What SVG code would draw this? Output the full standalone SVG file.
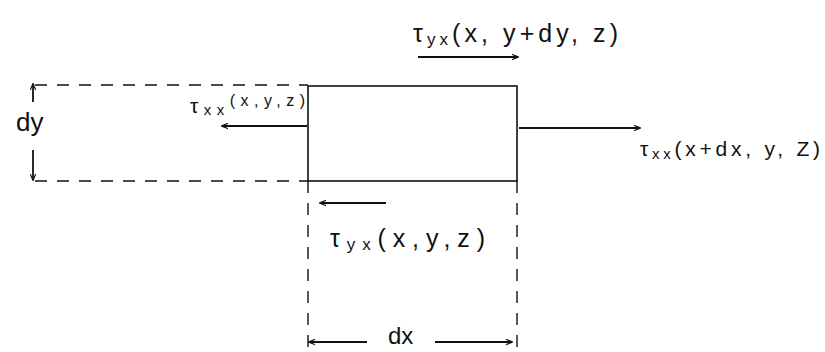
<svg xmlns="http://www.w3.org/2000/svg" width="825" height="352" viewBox="0 0 825 352">
<defs>
<marker id="ah" viewBox="0 0 10 10" refX="9" refY="5" markerWidth="7" markerHeight="7" orient="auto-start-reverse" markerUnits="userSpaceOnUse">
<path d="M0,1 L10,5 L0,9" fill="none" stroke="#111" stroke-width="1.6"/>
</marker>
<style>
.ln{stroke:#111;stroke-width:1.6;fill:none}
.ds{stroke:#111;stroke-width:1.4;fill:none;stroke-dasharray:12 10}
.ar{stroke:#111;stroke-width:1.8;fill:none;marker-end:url(#ah)}
.t{font-family:"Liberation Sans","DejaVu Sans",sans-serif;fill:#111}
</style>
</defs>
<rect width="825" height="352" fill="#fff"/>
<g id="element">
<rect x="308" y="86" width="209" height="95" class="ln"/>
</g>
<g id="guides">
<line x1="35" y1="85" x2="308" y2="85" class="ds"/>
<line x1="35" y1="181" x2="308" y2="181" class="ds"/>
<line x1="308" y1="181" x2="308" y2="352" class="ds"/>
<line x1="517" y1="181" x2="517" y2="352" class="ds"/>
</g>
<g id="connectors">
<line x1="33" y1="102" x2="33" y2="84" class="ar"/>
<line x1="33" y1="150" x2="33" y2="180" class="ar"/>
<line x1="367" y1="342" x2="309" y2="342" class="ar"/>
<line x1="435" y1="342" x2="512" y2="342" class="ar"/>
<line x1="418" y1="57" x2="518" y2="57" class="ar"/>
<line x1="307" y1="126" x2="222" y2="126" class="ar"/>
<line x1="519" y1="128" x2="640" y2="128" class="ar"/>
<line x1="386" y1="203" x2="320" y2="203" class="ar"/>
</g>
<g id="labels">
<text class="t" x="16" y="131" font-size="26">dy</text>
<text class="t" x="388" y="344" font-size="24">dx</text>
<text class="t" x="413" y="42" font-size="25" textLength="205" lengthAdjust="spacing">τ<tspan font-size="17" dy="3">yx</tspan><tspan dy="-3">(x, y+dy, z)</tspan></text>
<text class="t" x="190" y="113" font-size="21" textLength="115" lengthAdjust="spacing">τ<tspan font-size="15" dy="2">xx</tspan><tspan font-size="16" dy="-9">(x,y,z)</tspan></text>
<text class="t" x="640" y="156" font-size="21" textLength="180" lengthAdjust="spacing">τ<tspan font-size="15" dy="3">xx</tspan><tspan dy="-3">(x+dx, y, Z)</tspan></text>
<text class="t" x="330" y="247" font-size="25" textLength="155" lengthAdjust="spacing">τ<tspan font-size="17" dy="3">yx</tspan><tspan dy="-3">(x,y,z)</tspan></text>
</g>
</svg>
